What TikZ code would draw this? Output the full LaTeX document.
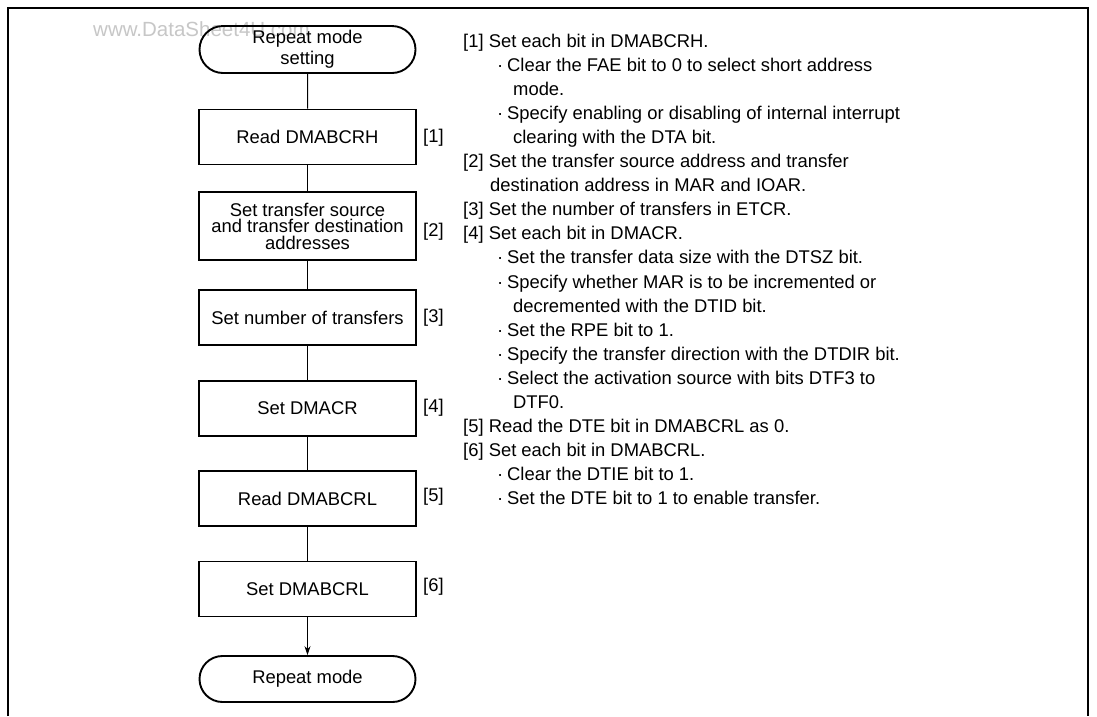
\documentclass[tikz,border=0pt]{standalone}
\usepackage{fontspec}
\setmainfont{Liberation Sans}
\usetikzlibrary{shapes.misc,arrows.meta}
\newcommand\myfs{\fontsize{18.4}{22}\selectfont}
\newcommand\wmfs{\fontsize{20.5}{24}\selectfont}
\tikzset{
  stepbox/.style={draw, line width=1.9pt, minimum width=217pt, minimum height=55pt, inner sep=0pt, align=center, font=\myfs},
  termbox/.style={draw, rounded rectangle, line width=1.9pt, minimum width=216pt, minimum height=47pt, inner sep=0pt, align=center, font=\myfs},
  conn/.style={line width=1pt},
  tag/.style={anchor=west, inner sep=0pt, font=\myfs},
  txt/.style={anchor=base west, inner sep=0pt, font=\myfs},
  frameline/.style={line width=1.6pt},
}
\begin{document}
\begin{tikzpicture}[x=1pt,y=-1pt]
\useasboundingbox (0,0) rectangle (1097,716);
\fill[white] (0,0) rectangle (1097,716);
\coordinate (f1) at (8,716);
\coordinate (f2) at (8,8);
\coordinate (f3) at (1088,8);
\coordinate (f4) at (1088,716);
\draw[frameline] (f1) -- (f2) -- (f3) -- (f4);
\node[anchor=base west, inner sep=0pt, font=\wmfs, text=black!22] (wm) at (93,36) {www.DataSheet4U.com};
% flowchart
\node[termbox, font={\fontsize{18.4}{21}\selectfont}] (s) at (307.5,49.5) {Repeat mode\\setting};
\node[stepbox] (b1) at (307.5,137) {Read DMABCRH};
\node[stepbox, minimum height=68pt, font={\fontsize{18.4}{16.5}\selectfont}] (b2) at (307.5,226) {Set transfer source\\and transfer destination\\addresses};
\node[stepbox] (b3) at (307.5,317.5) {Set number of transfers};
\node[stepbox] (b4) at (307.5,408.5) {Set DMACR};
\node[stepbox] (b5) at (307.5,498.5) {Read DMABCRL};
\node[stepbox] (b6) at (307.5,589) {Set DMABCRL};
\node[termbox, minimum height=46pt] (e) at (307.5,679) {Repeat mode};
\draw[conn] (s) -- (b1);
\draw[conn] (b1) -- (b2);
\draw[conn] (b2) -- (b3);
\draw[conn] (b3) -- (b4);
\draw[conn] (b4) -- (b5);
\draw[conn] (b5) -- (b6);
\draw[conn, -{Stealth[length=9pt,width=6pt]}] (b6) -- (e);
\node[tag] (g1) at (423,138) {[1]};
\node[tag] (g2) at (423,232) {[2]};
\node[tag] (g3) at (423,318) {[3]};
\node[tag] (g4) at (423,408) {[4]};
\node[tag] (g5) at (423,497) {[5]};
\node[tag] (g6) at (423,587) {[6]};
% description
\def\xl{463}\def\xb{497}\def\xc{513}\def\xd{490}
\newcommand\bl{\makebox[10pt][l]{·}}
\node[txt] (t0) at (\xl,47.0) {[1] Set each bit in DMABCRH.};
\node[txt] (t1) at (\xb,71.1) {\bl Clear the FAE bit to 0 to select short address};
\node[txt] (t2) at (\xc,95.2) {mode.};
\node[txt] (t3) at (\xb,119.3) {\bl Specify enabling or disabling of internal interrupt};
\node[txt] (t4) at (\xc,143.4) {clearing with the DTA bit.};
\node[txt] (t5) at (\xl,167.5) {[2] Set the transfer source address and transfer};
\node[txt] (t6) at (\xd,191.6) {destination address in MAR and IOAR.};
\node[txt] (t7) at (\xl,215.7) {[3] Set the number of transfers in ETCR.};
\node[txt] (t8) at (\xl,239.8) {[4] Set each bit in DMACR.};
\node[txt] (t9) at (\xb,263.9) {\bl Set the transfer data size with the DTSZ bit.};
\node[txt] (t10) at (\xb,288.0) {\bl Specify whether MAR is to be incremented or};
\node[txt] (t11) at (\xc,312.1) {decremented with the DTID bit.};
\node[txt] (t12) at (\xb,336.2) {\bl Set the RPE bit to 1.};
\node[txt] (t13) at (\xb,360.3) {\bl Specify the transfer direction with the DTDIR bit.};
\node[txt] (t14) at (\xb,384.4) {\bl Select the activation source with bits DTF3 to};
\node[txt] (t15) at (\xc,408.5) {DTF0.};
\node[txt] (t16) at (\xl,432.6) {[5] Read the DTE bit in DMABCRL as 0.};
\node[txt] (t17) at (\xl,456.7) {[6] Set each bit in DMABCRL.};
\node[txt] (t18) at (\xb,480.8) {\bl Clear the DTIE bit to 1.};
\node[txt] (t19) at (\xb,504.9) {\bl Set the DTE bit to 1 to enable transfer.};
\end{tikzpicture}
\end{document}
